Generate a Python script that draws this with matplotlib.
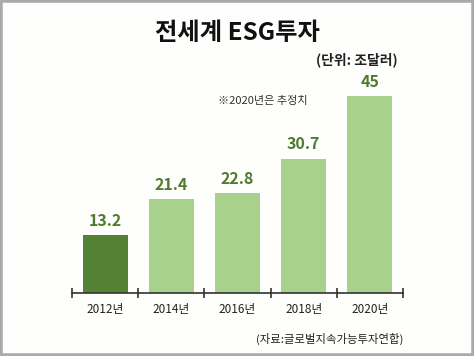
import matplotlib
matplotlib.use("Agg")
import matplotlib.pyplot as plt
from matplotlib.patches import Rectangle

plt.rcParams['font.family'] = ['Noto Sans CJK KR', 'DejaVu Sans']

# 데이터
years = ['2012년', '2014년', '2016년', '2018년', '2020년']
values = [13.2, 21.4, 22.8, 30.7, 45]
labels = ['13.2', '21.4', '22.8', '30.7', '45']
bar_colors = ['#548235', '#a9d18e', '#a9d18e', '#a9d18e', '#a9d18e']

fig = plt.figure(figsize=(4.74, 3.56), dpi=100)
fig.patch.set_facecolor('#fefefc')

# 바깥 회색 테두리
fig.patches.append(Rectangle((0, 0), 1, 1, transform=fig.transFigure,
                             fill=False, edgecolor='#aaaaaa', linewidth=4))

ax = fig.add_axes([72 / 474, 63 / 356, 331 / 474, 233 / 356])
ax.set_facecolor('none')
x = list(range(len(years)))
ax.bar(x, values, width=0.68, color=bar_colors)

for xi, v, t in zip(x, values, labels):
    ax.text(xi, v + 1.4, t, ha='center', va='bottom', fontsize=11.5,
            fontweight='bold', color='#4f7a30')

ax.set_xlim(-0.5, 4.5)
ax.set_ylim(0, 45 * 233 / 197)
for s in ['top', 'right', 'left']:
    ax.spines[s].set_visible(False)
ax.spines['bottom'].set_color('#333333')
ax.spines['bottom'].set_linewidth(1.2)
ax.set_yticks([])
ax.set_xticks(x)
ax.set_xticklabels(years, fontsize=8.5, fontweight='medium', color='#222222')
ax.tick_params(axis='x', which='major', length=0, pad=7)
ax.set_xticks([i - 0.5 for i in range(len(years) + 1)], minor=True)
ax.tick_params(axis='x', which='minor', length=7, width=1.2,
               direction='inout', color='#333333')

fig.text(237 / 474, 1 - 33 / 356, '전세계 ESG투자', ha='center', va='center',
         fontsize=17.5, fontweight='bold', color='#111111')
fig.text(398 / 474, 1 - 60 / 356, '(단위: 조달러)', ha='right', va='center',
         fontsize=10, fontweight='bold', color='#222222')
fig.text(218 / 474, 1 - 101 / 356, '※2020년은 추정치', ha='left', va='center',
         fontsize=8, fontweight='medium', color='#333333')
fig.text(403 / 474, 1 - 339 / 356, '(자료:글로벌지속가능투자연합)', ha='right',
         va='center', fontsize=8.2, fontweight='medium', color='#222222')

fig.savefig('out.png', dpi=100, facecolor=fig.get_facecolor())
